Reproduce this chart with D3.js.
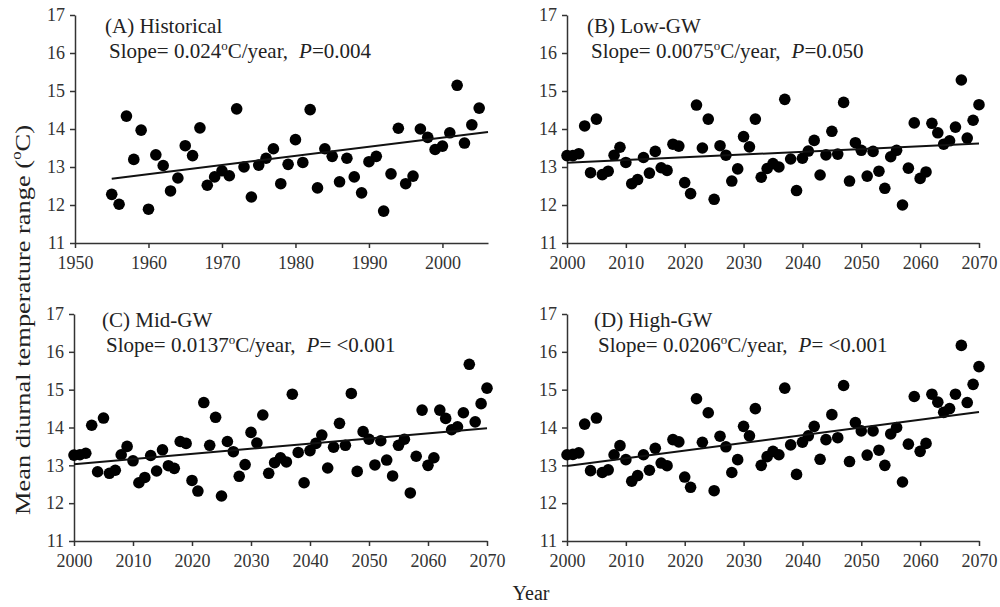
<!DOCTYPE html>
<html>
<head>
<meta charset="utf-8">
<script src="https://cdn.jsdelivr.net/npm/d3@7"></script>
<style>
    body { margin: 0; background: #fff; }
    svg text { font-family: "Liberation Serif", "Times New Roman", serif; fill: #222; }
    .axis path, .axis line { stroke: #333; stroke-width: 1.5; }
    .axis text { font-size: 18px; font-family: "Liberation Serif", serif; fill: #333; }
</style>
</head>
<body>
<div class="chart"></div>
<script>
// historical period, 1955-2005
const histYears = [1955,1956,1957,1958,1959,1960,1961,1962,1963,1964,1965,1966,1967,1968,1969,
    1970,1971,1972,1973,1974,1975,1976,1977,1978,1979,1980,1981,1982,1983,1984,1985,1986,1987,
    1988,1989,1990,1991,1992,1993,1994,1995,1996,1997,1998,1999,2000,2001,2002,2003,2004,2005];
const histDtr = [12.28,12.02,14.34,13.20,13.97,11.89,13.32,13.04,12.37,12.71,13.56,13.30,14.03,12.52,12.74,
    12.90,12.77,14.53,13.00,12.21,13.05,13.23,13.48,12.56,13.07,13.72,13.12,14.51,12.45,13.48,13.28,12.61,13.23,
    12.74,12.32,13.14,13.28,11.84,12.82,14.02,12.56,12.76,14.00,13.78,13.46,13.55,13.90,15.15,13.63,14.11,14.55];

// scenario period, 2000-2070
const futureYears = [2000,2001,2002,2003,2004,2005,2006,2007,2008,2009,2010,2011,2012,2013,2014,2015,2016,2017,
    2018,2019,2020,2021,2022,2023,2024,2025,2026,2027,2028,2029,2030,2031,2032,2033,2034,2035,2036,2037,2038,2039,
    2040,2041,2042,2043,2044,2045,2046,2047,2048,2049,2050,2051,2052,2053,2054,2055,2056,2057,2058,2059,2060,2061,
    2062,2063,2064,2065,2066,2067,2068,2069,2070];
const lowGW = [13.30,13.30,13.35,14.08,12.85,14.26,12.80,12.89,13.31,13.52,13.12,12.56,12.67,13.25,12.84,13.41,12.98,12.91,
    13.60,13.55,12.59,12.30,14.63,13.50,14.26,12.15,13.56,13.31,12.63,12.95,13.80,13.53,14.26,12.73,12.96,13.09,13.00,14.78,13.21,12.38,
    13.23,13.42,13.70,12.79,13.32,13.94,13.34,14.70,12.63,13.64,13.44,12.76,13.41,12.89,12.44,13.27,13.44,12.00,12.97,14.16,12.70,12.87,
    14.15,13.90,13.60,13.69,14.05,15.29,13.76,14.23,14.64];
const midGW = [13.27,13.28,13.32,14.06,12.83,14.25,12.79,12.87,13.28,13.50,13.12,12.54,12.68,13.26,12.85,13.41,12.99,12.92,
    13.63,13.58,12.60,12.32,14.66,13.53,14.27,12.19,13.63,13.36,12.71,13.02,13.87,13.59,14.33,12.79,13.07,13.20,13.09,14.88,13.34,12.54,
    13.39,13.58,13.80,12.93,13.48,14.11,13.53,14.90,12.84,13.89,13.69,13.01,13.65,13.14,12.72,13.53,13.69,12.27,13.24,14.46,13.00,13.20,
    14.46,14.24,13.94,14.02,14.39,15.67,14.15,14.63,15.04];
const highGW = [13.28,13.29,13.33,14.09,12.86,14.25,12.81,12.88,13.28,13.52,13.15,12.58,12.73,13.28,12.87,13.45,13.06,12.99,
    13.68,13.62,12.69,12.42,14.76,13.61,14.39,12.33,13.77,13.49,12.81,13.15,14.03,13.78,14.50,13.00,13.23,13.37,13.28,15.04,13.54,12.76,
    13.61,13.78,14.03,13.16,13.68,14.34,13.73,15.11,13.10,14.13,13.91,13.27,13.91,13.40,13.00,13.83,14.00,12.56,13.56,14.82,13.37,13.58,
    14.88,14.67,14.40,14.50,14.88,16.17,14.66,15.14,15.61];

// fitted trend lines as drawn in the figure: value at first year and at end of axis
const trendStart = [12.69, 13.11, 13.03, 12.98];
const trendEnd = [13.92, 13.62, 13.98, 14.41];

const panelTitles = ["(A) Historical", "(B) Low-GW", "(C) Mid-GW", "(D) High-GW"];
const slopeValues = ["0.024", "0.0075", "0.0137", "0.0206"];
const pValues = ["=0.004", "=0.050", "= <0.001", "= <0.001"];

const histTicks = [1950, 1960, 1970, 1980, 1990, 2000];
const futureTicks = [2000, 2010, 2020, 2030, 2040, 2050, 2060, 2070];
const yTicks = [11, 12, 13, 14, 15, 16, 17];

const width = 1000, height = 607;

// panel boxes, in page pixels
const panels = [
    {years: histYears,   values: histDtr, xDomain: [1950, 2006.2], ticks: histTicks,   left: 75,  right: 488, top: 15,  bottom: 243, lx: 30, ly: 33},
    {years: futureYears, values: lowGW,   xDomain: [2000, 2070],   ticks: futureTicks, left: 567, right: 979, top: 15,  bottom: 243, lx: 20, ly: 33},
    {years: futureYears, values: midGW,   xDomain: [2000, 2070],   ticks: futureTicks, left: 74,  right: 487, top: 314, bottom: 541, lx: 28, ly: 327},
    {years: futureYears, values: highGW,  xDomain: [2000, 2070],   ticks: futureTicks, left: 567, right: 979, top: 314, bottom: 541, lx: 27, ly: 327}
];

const svg = d3.select(".chart")
    .append("svg")
    .attr("width", width)
    .attr("height", height);

panels.forEach(function(p, i) {

    const points = p.years.map(function(y, j) { return {year: y, value: p.values[j]}; });

    const xScale = d3.scaleLinear()
        .domain(p.xDomain)
        .range([p.left, p.right]);

    const yScale = d3.scaleLinear()
        .domain([11, 17])
        .range([p.bottom, p.top]);

    const g = svg.append("g");

    // axes
    const xAxis = d3.axisBottom(xScale)
        .tickValues(p.ticks)
        .tickFormat(d3.format("d"))
        .tickSizeInner(5)
        .tickSizeOuter(0)
        .tickPadding(8);

    const yAxis = d3.axisLeft(yScale)
        .tickValues(yTicks)
        .tickFormat(d3.format("d"))
        .tickSizeInner(5)
        .tickSizeOuter(0)
        .tickPadding(5);

    g.append("g")
        .attr("class", "axis x-axis")
        .attr("transform", `translate(0, ${p.bottom})`)
        .call(xAxis);

    g.append("g")
        .attr("class", "axis y-axis")
        .attr("transform", `translate(${p.left}, 0)`)
        .call(yAxis);

    // dots
    g.selectAll("circle")
        .data(points)
        .enter()
        .append("circle")
        .attr("cx", function(d) { return xScale(d.year); })
        .attr("cy", function(d) { return yScale(d.value); })
        .attr("r", 5.8)
        .attr("fill", "#000");

    // trend line
    g.append("line")
        .attr("x1", xScale(p.years[0]))
        .attr("y1", yScale(trendStart[i]))
        .attr("x2", xScale(p.xDomain[1]))
        .attr("y2", yScale(trendEnd[i]))
        .attr("stroke", "#111")
        .attr("stroke-width", 2);

    // panel labels
    g.append("text")
        .attr("x", p.left + p.lx)
        .attr("y", p.ly)
        .attr("font-size", 21)
        .text(panelTitles[i]);

    const st = g.append("text")
        .attr("x", p.left + p.lx + 4)
        .attr("y", p.ly + 25)
        .attr("font-size", 21);
    st.append("tspan").text("Slope= " + slopeValues[i]);
    st.append("tspan").attr("font-size", 13).attr("dy", -8).text("o");
    st.append("tspan").attr("dy", 8).text("C/year,");
    st.append("tspan").attr("dx", 11).attr("font-style", "italic").text("P");
    st.append("tspan").text(pValues[i]);
});

// shared axis titles
const yTitle = svg.append("text")
    .attr("transform", "translate(30, 320) rotate(-90)")
    .attr("text-anchor", "middle")
    .attr("font-size", 22)
    .attr("textLength", 390)
    .attr("lengthAdjust", "spacingAndGlyphs");
yTitle.append("tspan").text("Mean diurnal temperature range (");
yTitle.append("tspan").attr("font-size", 14).attr("dy", -9).text("o");
yTitle.append("tspan").attr("dy", 9).text("C)");

svg.append("text")
    .attr("x", 531)
    .attr("y", 600)
    .attr("text-anchor", "middle")
    .attr("font-size", 20)
    .text("Year");
</script>
</body>
</html>
